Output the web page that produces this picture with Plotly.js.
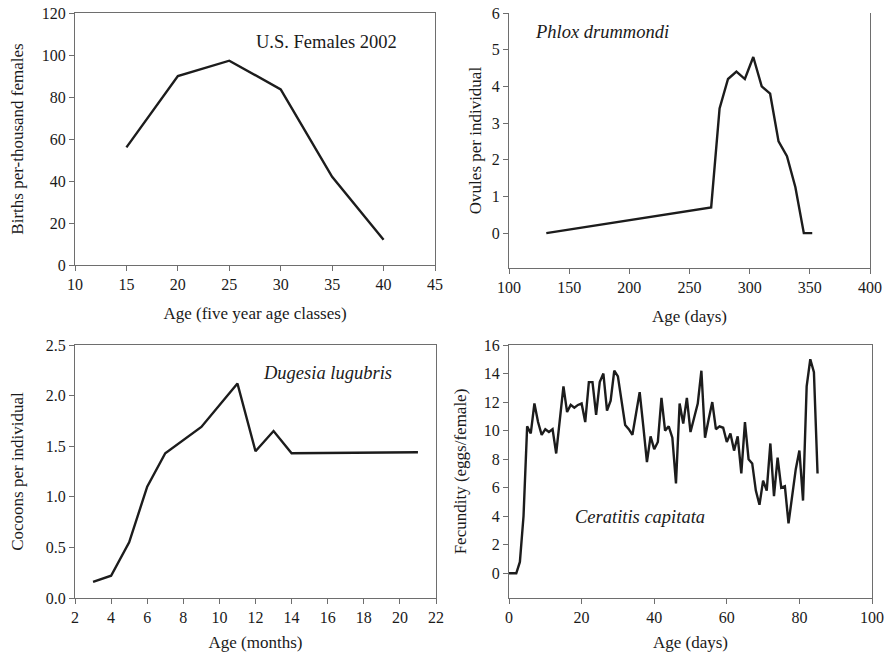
<!DOCTYPE html>
<html>
<head>
<meta charset="utf-8">
<script src="https://cdn.plot.ly/plotly-3.0.1.min.js"></script>
<style>
  html, body { margin: 0; padding: 0; background: #fff; }
  #chart { width: 886px; height: 656px; }
</style>
</head>
<body>
<div id="chart"></div>
<script>
// U.S. females 2002
const usAge = [15, 20, 25, 30, 35, 40];
const usBirths = [56, 90, 97.3, 83.6, 42, 12];

// Phlox drummondi
const phloxDays = [131, 268, 275, 282, 289, 296, 303, 310, 317, 324, 331, 338, 345, 352];
const phloxOvules = [0, 0.7, 3.4, 4.2, 4.4, 4.2, 4.8, 4.0, 3.8, 2.5, 2.1, 1.25, 0, 0];

// Dugesia lugubris
const dugMonths = [3, 4, 5, 6, 7, 9, 11, 12, 13, 14, 21];
const dugCocoons = [0.16, 0.22, 0.55, 1.1, 1.43, 1.69, 2.12, 1.45, 1.65, 1.43, 1.44];

// Ceratitis capitata, one value per day from day 0
const medflyFecundity = [
  0, 0, 0, 0.8, 4.0, 10.3, 9.8, 11.9, 10.6, 9.7,
  10.1, 9.9, 10.1, 8.4, 10.8, 13.1, 11.3, 11.8, 11.6, 11.8,
  11.9, 10.6, 13.4, 13.4, 11.1, 13.4, 14.0, 11.4, 12.1, 14.2,
  13.8, 12.2, 10.4, 10.1, 9.7, 11.2, 12.7, 10.3, 7.8, 9.6,
  8.7, 9.2, 12.3, 10.0, 10.3, 9.5, 6.3, 11.9, 10.5, 12.3,
  9.9, 10.9, 11.9, 14.2, 9.5, 10.8, 12.0, 10.1, 10.3, 10.2,
  9.2, 9.8, 8.6, 9.6, 7.0, 10.6, 8.0, 7.7, 5.8, 4.8,
  6.5, 5.8, 9.1, 5.4, 8.1, 6.0, 6.1, 3.5, 5.3, 7.3,
  8.6, 5.1, 13.1, 15.0, 14.1, 7.0
];
const medflyDays = medflyFecundity.map((v, i) => i);

const W = 886, H = 656;
const serif = 'Liberation Serif, Times New Roman, serif';
const ink = '#1a1a1a';
const lineStyle = { color: '#1c1c1c', width: 2.4 };

function dom(a, b) { return [a / W, b / W]; }
function vdom(top, bottom) { return [1 - bottom / H, 1 - top / H]; }

function axis(extra) {
  return Object.assign({
    showgrid: false, zeroline: false, showline: true,
    linecolor: '#6e6e6e', linewidth: 1,
    ticks: 'outside', ticklen: 5, tickcolor: '#6e6e6e',
    tickfont: { family: serif, size: 16, color: ink },
    fixedrange: true
  }, extra);
}

function axTitle(text, standoff) {
  return { text: text, font: { family: serif, size: 17, color: ink }, standoff: standoff };
}

function label(text, x, y) {
  return { text: text, xref: 'paper', yref: 'paper', x: x / W, y: 1 - y / H,
    xanchor: 'center', yanchor: 'middle', showarrow: false,
    font: { family: serif, size: 18.5, color: ink } };
}

const data = [
  { x: usAge, y: usBirths, xaxis: 'x', yaxis: 'y', type: 'scatter', mode: 'lines', line: lineStyle },
  { x: phloxDays, y: phloxOvules, xaxis: 'x2', yaxis: 'y2', type: 'scatter', mode: 'lines', line: lineStyle },
  { x: dugMonths, y: dugCocoons, xaxis: 'x3', yaxis: 'y3', type: 'scatter', mode: 'lines', line: lineStyle },
  { x: medflyDays, y: medflyFecundity, xaxis: 'x4', yaxis: 'y4', type: 'scatter', mode: 'lines', line: lineStyle }
];

const layout = {
  width: W, height: H,
  margin: { l: 0, r: 0, t: 0, b: 0 },
  paper_bgcolor: '#fff', plot_bgcolor: '#fff',
  showlegend: false,
  font: { family: serif, color: ink },

  xaxis: axis({ domain: dom(75, 435), anchor: 'y', range: [10, 45], dtick: 5, tick0: 10, mirror: true,
    title: axTitle('Age (five year age classes)', 14) }),
  yaxis: axis({ domain: vdom(13, 265), anchor: 'x', range: [0, 120], dtick: 20, mirror: true,
    title: axTitle('Births per-thousand females', 13) }),

  xaxis2: axis({ domain: dom(509, 870), anchor: 'y2', range: [100, 400], dtick: 50, tick0: 100,
    title: axTitle('Age (days)', 14) }),
  yaxis2: axis({ domain: vdom(13, 268), anchor: 'x2', range: [-0.95, 6], dtick: 1, tick0: 0, mirror: true,
    title: axTitle('Ovules per individual', 5) }),

  xaxis3: axis({ domain: dom(75, 436), anchor: 'y3', range: [2, 22], dtick: 2, tick0: 2, mirror: true,
    title: axTitle('Age (months)', 10) }),
  yaxis3: axis({ domain: vdom(345, 598), anchor: 'x3', range: [0, 2.5], dtick: 0.5, tickformat: '.1f', mirror: true,
    title: axTitle('Cocoons per individual', 17) }),

  xaxis4: axis({ domain: dom(509, 872), anchor: 'y4', range: [0, 100], dtick: 20, tick0: 0, mirror: true,
    title: axTitle('Age (days)', 10) }),
  yaxis4: axis({ domain: vdom(345, 598), anchor: 'x4', range: [-1.73, 16], dtick: 2, tick0: 0, mirror: true,
    title: axTitle('Fecundity (eggs/female)', 12) }),

  annotations: [
    label('U.S. Females 2002', 326, 42),
    label('<i>Phlox drummondi</i>', 602, 32),
    label('<i>Dugesia lugubris</i>', 327, 373),
    label('<i>Ceratitis capitata</i>', 640, 517)
  ]
};

Plotly.newPlot('chart', data, layout, { staticPlot: true, displayModeBar: false });
</script>
</body>
</html>
